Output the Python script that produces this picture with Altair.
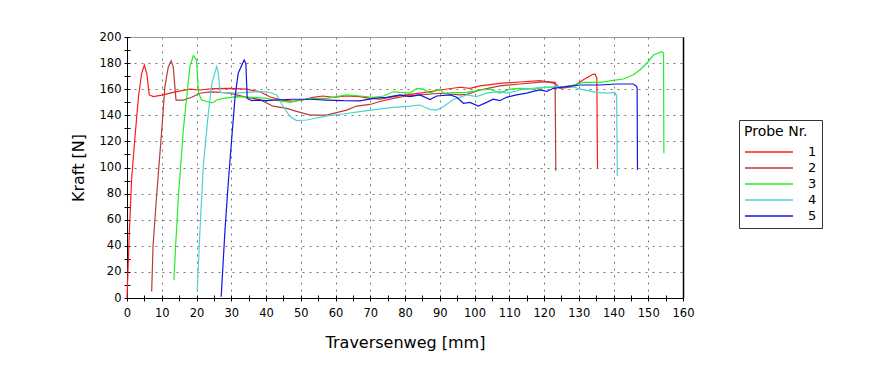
import altair as alt
import pandas as pd

# ---- data ----
probes = ["1", "2", "3", "4", "5"]
colors = ["#ff1a1a", "#b83a3a", "#22ee22", "#4fd2d2", "#1414e6"]

x1 = [0.0, 0.7, 1.3, 2.3, 3.3, 4.2, 5.0, 5.7, 6.4, 7.6, 10.0, 12.4, 15.0, 18.1, 21.0, 24.8, 29.6, 34.4, 38.3, 41.2,
      44.0, 47.8, 50.6, 53.5, 56.4, 59.3, 63.3, 67.0, 69.9, 72.8, 76.6, 80.5, 84.3, 90.1, 95.8, 98.7, 101.6, 107.3,
      113.1, 118.8, 123.2, 124.6, 128.4, 131.2, 134.1, 134.7, 135.2, 135.4]
y1 = [0, 52, 90, 123.6, 154, 172, 178.5, 172, 155.6, 154.3, 155.5, 157, 158.5, 160, 159.4, 160.4, 160.7, 160, 158, 154,
      152, 150.6, 151.7, 153.8, 154.8, 153.8, 154.8, 154.3, 153, 152.3, 154.3, 155.6, 157, 159.4, 161.5, 160.7, 162.5,
      164.5, 165.5, 166.5, 164.5, 160.7, 162, 167, 171.4, 171.6, 168.4, 99.4]

x2 = [7.1, 7.5, 8.5, 10.0, 10.9, 11.9, 12.7, 13.3, 14.1, 16.2, 18.6, 21.0, 23.9, 26.8, 29.6, 34.4, 38.3, 42.0, 46.0,
      48.8, 52.7, 57.5, 60.3, 63.2, 66.1, 69.9, 72.8, 76.6, 80.5, 84.3, 90.1, 95.8, 97.8, 101.6, 107.3, 113.1, 120.8,
      123.2, 123.4]
y2 = [4.9, 40, 77.6, 128.7, 162, 177.3, 181.8, 177.3, 151.7, 151.7, 153.8, 156.9, 157.9, 157.5, 157, 153.8, 152, 147,
      145.3, 143, 140.2, 140.2, 142, 144, 147.1, 148.3, 150.6, 153, 154.8, 155.6, 156.9, 155.6, 156, 159.4, 162.5, 164,
      165.8, 165.2, 97.6]

x3 = [13.5, 14.1, 14.8, 16.2, 17.2, 18.1, 19.1, 20.0, 20.6, 21.5, 22.9, 24.6, 25.8, 27.7, 31.6, 36.3, 40.2, 42.1, 46.9,
      49.8, 53.6, 57.5, 63.2, 67.0, 70.9, 73.8, 76.6, 78.6, 81.4, 83.4, 85.3, 87.2, 89.1, 90.1, 91.0, 97.8, 101.6,
      104.5, 107.3, 110.2, 113.1, 116.9, 120.8, 124.6, 128.4, 131.3, 136.1, 139.9, 142.8, 145.7, 147.6, 149.6, 151.5,
      153.9, 154.4, 154.5]
y3 = [13.8, 45, 77.6, 128.7, 154.3, 177.3, 185.7, 182.5, 156.9, 151.7, 150.6, 149.5, 151.7, 153, 154.3, 153.8, 153,
      151.7, 149.9, 151.7, 153, 153, 155.6, 154.8, 153.8, 154.8, 158, 157.5, 157, 160.7, 160, 157, 159, 160, 157, 157.5,
      159.4, 160, 157, 160, 160.7, 160, 161.5, 161.5, 163.2, 165.2, 165.2, 166.8, 167.8, 171, 174.7, 179.9, 186.2,
      188.7, 187.5, 110.9]

x4 = [20.2, 21.0, 22.0, 23.4, 24.4, 25.8, 26.3, 26.8, 31.6, 36.3, 40.2, 41.2, 43.1, 45.0, 46.9, 48.8, 51.7, 57.5, 62.2,
      67.0, 71.9, 76.6, 81.4, 84.3, 87.2, 89.1, 91.0, 93.9, 97.8, 100.6, 103.5, 107.3, 109.2, 113.1, 118.8, 124.6,
      128.4, 130.4, 135.2, 138.1, 140.4, 140.9, 141.1]
y4 = [4.9, 52, 103, 141.5, 164.5, 177.3, 172.2, 157.5, 157, 158, 158, 157.5, 155.6, 146.6, 139, 136, 136.4, 139.5,
      141, 142.8, 144.6, 146.1, 147.1, 147.9, 144.6, 144, 146.6, 152.1, 155.6, 154.3, 157, 158.3, 157, 159.4, 161.5,
      162, 162, 160, 157.5, 157, 157.5, 154.8, 93.5]

x5 = [27.1, 28.2, 29.2, 30.1, 31.1, 32.0, 33.7, 34.2, 34.6, 35.9, 37.3, 40.2, 42.1, 47.9, 52.7, 57.5, 62.2, 67.0, 70.9,
      74.7, 78.6, 81.4, 84.3, 87.2, 89.1, 93.0, 94.9, 96.8, 98.7, 101.1, 103.5, 105.4, 107.3, 109.2, 112.1, 115.0,
      116.9, 118.8, 120.8, 122.7, 126.5, 130.4, 136.1, 140.9, 145.7, 146.7, 146.8, 146.9]
y5 = [1, 52, 90.4, 121, 154.3, 172.2, 182.4, 179.8, 153, 151.2, 151.7, 151.2, 151.7, 152.3, 152.3, 151.7, 151.2, 151,
      153, 153.8, 155.6, 154.3, 155.6, 152.1, 154.8, 155.6, 153.8, 149.2, 149.9, 147.1, 149.9, 152.3, 151.2, 153.8,
      155.6, 157, 158.3, 159.4, 158.3, 160.7, 162, 163.2, 163.2, 164, 164, 162, 160, 98.1]

x_ticks = list(range(0, 161, 10))
y_ticks = list(range(0, 201, 20))
x_minor = list(range(0, 161, 5))
y_minor = list(range(0, 201, 10))

rows = []
for name, xs, ys in zip(probes, [x1, x2, x3, x4, x5], [y1, y2, y3, y4, y5]):
    for i, (a, b) in enumerate(zip(xs, ys)):
        rows.append({"probe": name, "weg": a, "kraft": b, "i": i})
df = pd.DataFrame(rows)

FONT = "DejaVu Sans"
xscale = alt.Scale(domain=[0, 160], nice=False, zero=False)
yscale = alt.Scale(domain=[0, 200], nice=False, zero=False)

base = alt.Chart(df)

lines = base.mark_line(strokeWidth=1.2, interpolate="linear").encode(
    x=alt.X("weg:Q", scale=xscale,
            axis=alt.Axis(orient="bottom", values=x_ticks, ticks=False, labelPadding=9, labelFontSize=11.5,
                          labelColor="black", labelFont=FONT, domainColor="black", grid=True,
                          gridDash=[2, 5], gridColor="#777777", title="Traversenweg [mm]",
                          titleFont=FONT, titleFontSize=16, titleFontWeight="normal", titleColor="black",
                          titlePadding=16, labelFlush=False)),
    y=alt.Y("kraft:Q", scale=yscale,
            axis=alt.Axis(orient="left", values=y_ticks, ticks=False, labelPadding=6, labelFontSize=11.5,
                          labelColor="black", labelFont=FONT, domainColor="black", grid=True,
                          gridDash=[2, 5], gridColor="#777777", title="Kraft [N]",
                          titleFont=FONT, titleFontSize=16, titleFontWeight="normal", titleColor="black",
                          titlePadding=13, labelFlush=False)),
    color=alt.Color("probe:N", scale=alt.Scale(domain=probes, range=colors),
                    legend=alt.Legend(title="Probe Nr.", orient="none", legendX=612, legendY=83,
                                      symbolType="M-1,0H7", symbolSize=144, symbolStrokeWidth=1.5,
                                      labelFont=FONT, labelFontSize=13, labelColor="black", labelOffset=50,
                                      titleFont=FONT, titleFontSize=14, titleFontWeight="normal",
                                      titleColor="black", titlePadding=6, strokeColor="#333333",
                                      padding=5, rowPadding=2)),
    order="i:Q",
)

tick_layer = base.mark_point(opacity=0).encode(
    x=alt.X("weg:Q", scale=xscale,
            axis=alt.Axis(orient="bottom", values=x_minor, labels=False, domain=False, grid=False,
                          ticks=True, tickSize=6, offset=-3, tickColor="black", title=None)),
    y=alt.Y("kraft:Q", scale=yscale,
            axis=alt.Axis(orient="left", values=y_minor, labels=False, domain=False, grid=False,
                          ticks=True, tickSize=6, offset=-3, tickColor="black", title=None)),
)

frame_layer = base.mark_point(opacity=0).encode(
    x=alt.X("weg:Q", scale=xscale,
            axis=alt.Axis(orient="top", labels=False, domain=True, domainColor="#999999", grid=False,
                          ticks=False, title=None)),
    y=alt.Y("kraft:Q", scale=yscale,
            axis=alt.Axis(orient="right", labels=False, domain=True, domainColor="black", domainWidth=1.5,
                          grid=False, ticks=False, title=None)),
)

chart = alt.layer(lines, tick_layer, frame_layer).resolve_axis(
    x="independent", y="independent"
).properties(
    width=556, height=261,
    autosize=alt.AutoSizeParams(type="none"),
    padding={"left": 119, "top": 29, "right": 180, "bottom": 80},
).configure_view(stroke=None).configure(font=FONT)

chart.save("out.html", embed_options={"renderer": "svg", "actions": False})
